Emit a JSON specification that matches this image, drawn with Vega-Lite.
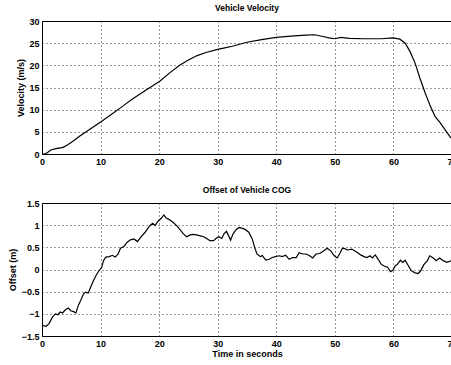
{
  "$schema": "https://vega.github.io/schema/vega-lite/v6.json",
  "padding": {"left": 7, "top": 3, "right": 0, "bottom": 0},
  "background": "white",
  "spacing": 18,
  "datasets": {
    "vel": [
      {"t": 0, "v": 0}, {"t": 0.5, "v": 0.05}, {"t": 0.9, "v": 0.3}, {"t": 1.5, "v": 0.9}, {"t": 2.4, "v": 1.2},
      {"t": 3.6, "v": 1.5}, {"t": 4.4, "v": 2.1}, {"t": 5.4, "v": 3.0}, {"t": 6.4, "v": 4.0}, {"t": 8.3, "v": 5.7},
      {"t": 10.2, "v": 7.4}, {"t": 12.0, "v": 9.1}, {"t": 13.8, "v": 10.8}, {"t": 15.2, "v": 12.2}, {"t": 16.6, "v": 13.4},
      {"t": 18.3, "v": 14.9}, {"t": 20.1, "v": 16.4}, {"t": 21.8, "v": 18.3}, {"t": 23.5, "v": 20.0}, {"t": 25.0, "v": 21.2},
      {"t": 26.5, "v": 22.2}, {"t": 28.0, "v": 22.9}, {"t": 30.0, "v": 23.6}, {"t": 31.0, "v": 23.9}, {"t": 32.5, "v": 24.3},
      {"t": 35.0, "v": 25.2}, {"t": 37.5, "v": 25.8}, {"t": 40.0, "v": 26.3}, {"t": 42.5, "v": 26.6}, {"t": 45.0, "v": 26.8},
      {"t": 46.5, "v": 26.9}, {"t": 48.0, "v": 26.5}, {"t": 49.0, "v": 26.2}, {"t": 50.0, "v": 26.0}, {"t": 51.0, "v": 26.3},
      {"t": 52.5, "v": 26.1}, {"t": 55.0, "v": 26.0}, {"t": 57.9, "v": 26.0}, {"t": 59.9, "v": 26.2}, {"t": 61.1, "v": 25.9},
      {"t": 62.0, "v": 25.0}, {"t": 62.8, "v": 23.2}, {"t": 63.7, "v": 20.5}, {"t": 64.5, "v": 17.2}, {"t": 65.4, "v": 13.8},
      {"t": 66.3, "v": 10.8}, {"t": 67.1, "v": 8.5}, {"t": 68.0, "v": 7.0}, {"t": 68.8, "v": 5.5}, {"t": 69.7, "v": 3.8}, {"t": 70.0, "v": 3.4}
    ],
    "off": [
      {"t": 0, "v": -1.26}, {"t": 0.7, "v": -1.28}, {"t": 1.2, "v": -1.22}, {"t": 1.8, "v": -1.07}, {"t": 2.3, "v": -1.0},
      {"t": 2.7, "v": -1.02}, {"t": 3.1, "v": -0.96}, {"t": 3.5, "v": -0.98}, {"t": 4.0, "v": -0.91}, {"t": 4.5, "v": -0.87},
      {"t": 4.9, "v": -0.93}, {"t": 5.4, "v": -0.95}, {"t": 5.8, "v": -0.98}, {"t": 6.2, "v": -0.81}, {"t": 6.6, "v": -0.7},
      {"t": 7.1, "v": -0.55}, {"t": 7.5, "v": -0.51}, {"t": 7.9, "v": -0.53}, {"t": 8.3, "v": -0.4}, {"t": 8.8, "v": -0.25},
      {"t": 9.2, "v": -0.14}, {"t": 9.6, "v": -0.05}, {"t": 10.2, "v": 0.05}, {"t": 10.5, "v": 0.2}, {"t": 10.9, "v": 0.28},
      {"t": 11.5, "v": 0.29}, {"t": 12.0, "v": 0.32}, {"t": 12.5, "v": 0.28}, {"t": 13.0, "v": 0.35}, {"t": 13.4, "v": 0.48},
      {"t": 14.0, "v": 0.52}, {"t": 14.5, "v": 0.61}, {"t": 15.1, "v": 0.67}, {"t": 15.7, "v": 0.69}, {"t": 16.3, "v": 0.63},
      {"t": 16.8, "v": 0.72}, {"t": 17.6, "v": 0.84}, {"t": 18.4, "v": 0.99}, {"t": 18.9, "v": 1.04}, {"t": 19.3, "v": 0.99},
      {"t": 19.8, "v": 1.09}, {"t": 20.4, "v": 1.16}, {"t": 20.8, "v": 1.23}, {"t": 21.2, "v": 1.16}, {"t": 21.8, "v": 1.12},
      {"t": 22.4, "v": 1.06}, {"t": 23.0, "v": 0.99}, {"t": 23.5, "v": 0.91}, {"t": 24.1, "v": 0.81}, {"t": 24.7, "v": 0.74},
      {"t": 25.3, "v": 0.78}, {"t": 25.8, "v": 0.79}, {"t": 26.4, "v": 0.78}, {"t": 27.0, "v": 0.76}, {"t": 27.6, "v": 0.74},
      {"t": 28.1, "v": 0.7}, {"t": 28.7, "v": 0.65}, {"t": 29.3, "v": 0.65}, {"t": 29.7, "v": 0.7}, {"t": 30.2, "v": 0.74},
      {"t": 30.7, "v": 0.7}, {"t": 31.1, "v": 0.81}, {"t": 31.5, "v": 0.86}, {"t": 32.0, "v": 0.72}, {"t": 32.2, "v": 0.66},
      {"t": 32.6, "v": 0.8}, {"t": 33.2, "v": 0.91}, {"t": 33.7, "v": 0.95}, {"t": 34.6, "v": 0.91}, {"t": 35.3, "v": 0.84},
      {"t": 35.9, "v": 0.69}, {"t": 36.3, "v": 0.5}, {"t": 36.7, "v": 0.35}, {"t": 37.3, "v": 0.29}, {"t": 37.6, "v": 0.32},
      {"t": 38.2, "v": 0.21}, {"t": 38.8, "v": 0.23}, {"t": 39.3, "v": 0.27}, {"t": 39.9, "v": 0.29}, {"t": 40.5, "v": 0.31},
      {"t": 41.0, "v": 0.29}, {"t": 41.6, "v": 0.32}, {"t": 42.2, "v": 0.23}, {"t": 42.8, "v": 0.27}, {"t": 43.4, "v": 0.27},
      {"t": 43.9, "v": 0.38}, {"t": 44.5, "v": 0.35}, {"t": 45.1, "v": 0.35}, {"t": 45.7, "v": 0.31}, {"t": 46.2, "v": 0.26},
      {"t": 46.8, "v": 0.35}, {"t": 47.4, "v": 0.36}, {"t": 48.0, "v": 0.41}, {"t": 48.7, "v": 0.48}, {"t": 49.3, "v": 0.42},
      {"t": 49.9, "v": 0.31}, {"t": 50.4, "v": 0.26}, {"t": 50.8, "v": 0.35}, {"t": 51.3, "v": 0.48}, {"t": 51.7, "v": 0.47},
      {"t": 52.1, "v": 0.44}, {"t": 52.9, "v": 0.46}, {"t": 53.9, "v": 0.38}, {"t": 54.4, "v": 0.33}, {"t": 55.0, "v": 0.29},
      {"t": 55.5, "v": 0.27}, {"t": 56.0, "v": 0.31}, {"t": 56.4, "v": 0.26}, {"t": 56.9, "v": 0.33}, {"t": 57.4, "v": 0.23},
      {"t": 57.9, "v": 0.12}, {"t": 58.4, "v": 0.08}, {"t": 59.0, "v": 0.05}, {"t": 59.5, "v": -0.05}, {"t": 59.9, "v": -0.02},
      {"t": 60.3, "v": 0.08}, {"t": 60.7, "v": 0.12}, {"t": 61.2, "v": 0.21}, {"t": 61.6, "v": 0.16}, {"t": 62.0, "v": 0.21},
      {"t": 62.4, "v": 0.12}, {"t": 63.0, "v": -0.02}, {"t": 63.6, "v": -0.07}, {"t": 64.2, "v": -0.09}, {"t": 64.6, "v": -0.04},
      {"t": 65.2, "v": 0.11}, {"t": 65.8, "v": 0.2}, {"t": 66.2, "v": 0.31}, {"t": 66.8, "v": 0.26}, {"t": 67.3, "v": 0.2},
      {"t": 67.9, "v": 0.26}, {"t": 68.5, "v": 0.2}, {"t": 69.1, "v": 0.16}, {"t": 69.9, "v": 0.2}, {"t": 70.0, "v": 0.2}
    ]
  },
  "vconcat": [
    {
      "title": {"text": "Vehicle Velocity", "offset": 5},
      "width": 410,
      "height": 133,
      "data": {"name": "vel"},
      "mark": {"type": "line", "color": "black", "strokeWidth": 1.2},
      "encoding": {
        "x": {"field": "t", "type": "quantitative", "scale": {"domain": [0, 70], "nice": false},
              "axis": {"values": [0, 10, 20, 30, 40, 50, 60, 70], "title": null}},
        "y": {"field": "v", "type": "quantitative", "scale": {"domain": [0, 30], "nice": false},
              "axis": {"values": [0, 5, 10, 15, 20, 25, 30], "title": "Velocity (m/s)", "titleX": -17}}
      }
    },
    {
      "title": {"text": "Offset of Vehicle COG", "offset": 5},
      "width": 410,
      "height": 133,
      "data": {"name": "off"},
      "mark": {"type": "line", "color": "black", "strokeWidth": 1.2},
      "encoding": {
        "x": {"field": "t", "type": "quantitative", "scale": {"domain": [0, 70], "nice": false},
              "axis": {"values": [0, 10, 20, 30, 40, 50, 60, 70], "title": "Time in seconds", "titlePadding": 1}},
        "y": {"field": "v", "type": "quantitative", "scale": {"domain": [-1.5, 1.5], "nice": false},
              "axis": {"values": [-1.5, -1, -0.5, 0, 0.5, 1, 1.5], "format": "~g", "title": "Offset (m)", "titleX": -25}}
      }
    }
  ],
  "config": {
    "font": "Liberation Sans",
    "view": {"stroke": "black", "strokeWidth": 1},
    "title": {"fontSize": 8.5, "fontWeight": "bold", "color": "black", "font": "Liberation Sans"},
    "axis": {
      "domain": false,
      "ticks": false,
      "labelPadding": 3,
      "labelFont": "Liberation Sans",
      "labelFontSize": 9,
      "labelFontWeight": "bold",
      "labelColor": "black",
      "titleFont": "Liberation Sans",
      "titleFontSize": 9,
      "titleFontWeight": "bold",
      "titleColor": "black",
      "grid": true,
      "gridColor": "black",
      "gridDash": [1, 3],
      "gridOpacity": 0.8,
      "gridWidth": 1,
      "labelFlush": false,
      "labelOverlap": false
    }
  }
}
